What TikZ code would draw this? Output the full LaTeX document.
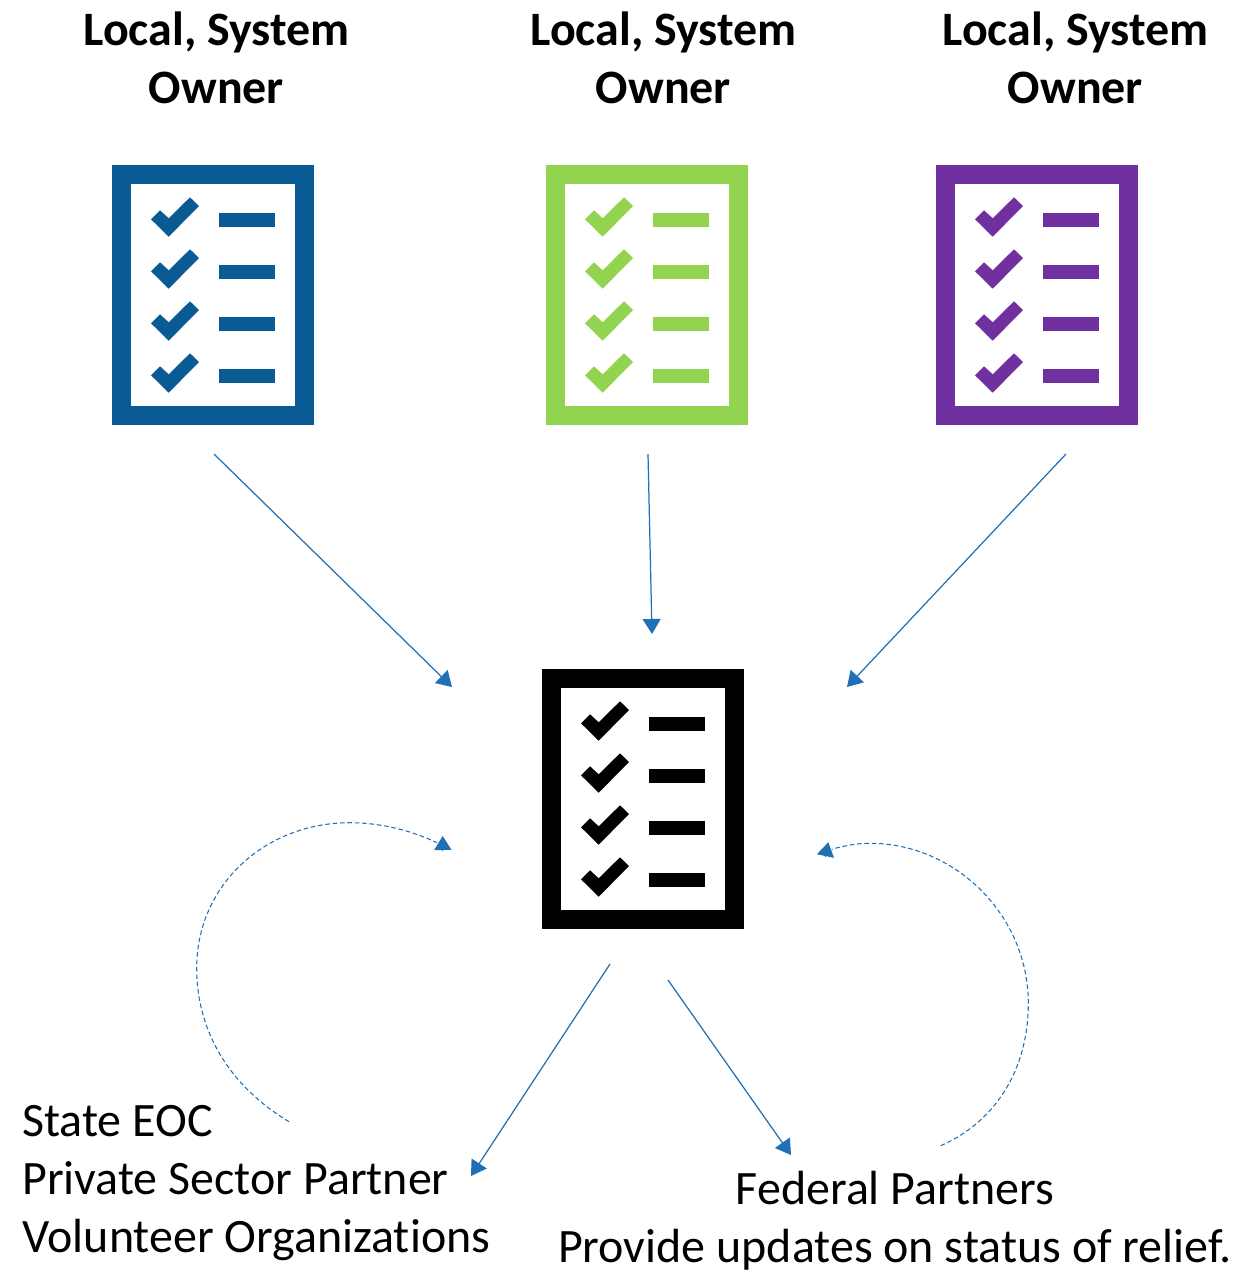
\documentclass[tikz,border=0pt]{standalone}
\usepackage{fontspec}
\setmainfont{Carlito}[Ligatures=NoCommon]
\usetikzlibrary{arrows.meta,calc}
\definecolor{listblue}{RGB}{10,90,148}
\definecolor{listgreen}{RGB}{146,212,80}
\definecolor{listpurple}{RGB}{112,48,160}
\definecolor{flowblue}{RGB}{31,112,181}

\begin{document}
\begin{tikzpicture}[
  x=0.02cm, y=-0.02cm,
  sheet/.style={rectangle, draw=#1, fill=white, line width=0.38cm, minimum width=3.66cm, minimum height=4.82cm},
  head/.style={font=\fontsize{27.3}{33}\selectfont\bfseries, align=center, inner sep=0pt},
  body/.style={font=\fontsize{27.3}{33}\selectfont, inner sep=0pt},
  flow/.style={flowblue, line width=0.7pt, -{Triangle[length=0.3cm, width=0.36cm]}},
  round trip/.style={flowblue, line width=0.6pt, dash pattern=on 2.6pt off 1.6pt},
  tiponly/.style={flowblue, line width=0pt, -{Triangle[length=0.28cm, width=0.35cm]}},
  pics/marks/.style={code={
    \foreach \row in {0,1,2,3} {
      \fill[#1] (-62,-75.7+52*\row) -- (-44.3,-58.3+52*\row) -- (-14,-89+52*\row) -- (-23,-97.7+52*\row) -- (-44.3,-76.7+52*\row) -- (-53,-84.7+52*\row) -- cycle;
      \fill[#1] (6.3,-81.7+52*\row) rectangle (62,-68.3+52*\row);
    }
  }},
]
\useasboundingbox (0,0) rectangle (1237,1271);
\node[head] (ownerA) at (216.5,57.5) {Local, System\\Owner};
\node[head] (ownerB) at (663.5,57.5) {Local, System\\Owner};
\node[head] (ownerC) at (1075.5,57.5) {Local, System\\Owner};
\node[sheet=listblue] (listA) at (213,295) {};
\node[sheet=listgreen] (listB) at (647,295) {};
\node[sheet=listpurple] (listC) at (1037,295) {};
\node[sheet=black] (listHub) at (643,799) {};
\pic at (listA) {marks=listblue};
\pic at (listB) {marks=listgreen};
\pic at (listC) {marks=listpurple};
\pic at (listHub) {marks=black};
\node[body, align=left, anchor=north west] (stateText) at (22,1105) {State EOC\\Private Sector Partner\\Volunteer Organizations};
\node[body, align=center, anchor=north] (fedText) at (895,1171) {Federal Partners\\Provide updates on status of relief.};
\coordinate (outA) at (214,454);
\coordinate (outB) at (648,454);
\coordinate (outC) at (1066,454);
\coordinate (inA) at (452,687);
\coordinate (inB) at (652,634);
\coordinate (inC) at (847,687);
\coordinate (outState) at (610,964);
\coordinate (outFed) at (668,980);
\coordinate (inState) at (471,1176);
\coordinate (inFed) at (791,1155);
\draw[flow] (outA) -- (inA);
\draw[flow] (outB) -- (inB);
\draw[flow] (outC) -- (inC);
\draw[flow] (outState) -- (inState);
\draw[flow] (outFed) -- (inFed);
% feedback arcs, their heads sit at an angle of their own
\coordinate (backState) at (289,1121.7);
\coordinate (backFed) at (940.7,1145.7);
\draw[round trip] (backState) .. controls (228,1085) and (196.7,1030) .. (196.7,968) .. controls (196.7,885) and (265,822.7) .. (350,822.7) .. controls (380,822.7) and (410,830) .. (437,842.7);
\draw[round trip] (backFed) .. controls (995,1122) and (1028.3,1070) .. (1028.3,1003.3) .. controls (1028.3,915) and (955,843.3) .. (870,843.3) .. controls (857,843.3) and (845,845.5) .. (831.7,849.3);
\draw[tiponly] (442.8,850) -- (442.7,836);
\draw[tiponly] (825.5,855.7) -- (828.3,842.3);
\end{tikzpicture}
\end{document}
